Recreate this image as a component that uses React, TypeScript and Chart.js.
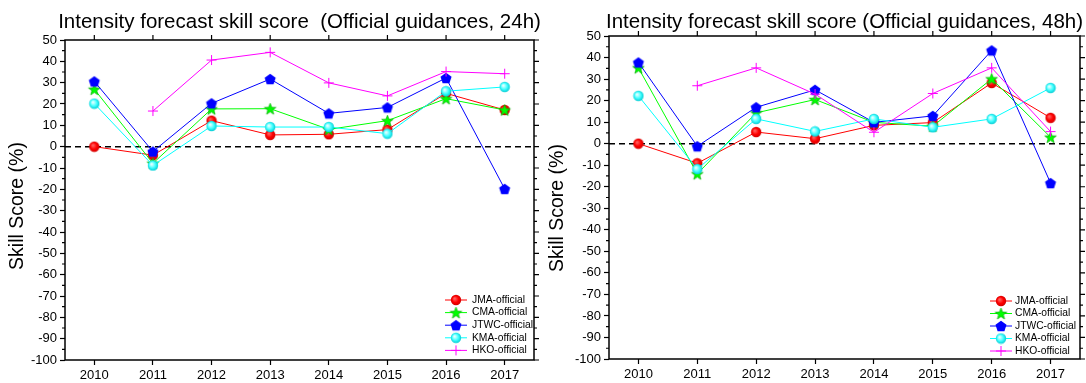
import React, { useEffect, useRef } from 'react';
import { Chart, registerables } from 'chart.js';
import { drawPoint } from 'chart.js/helpers';

Chart.register(...registerables);

const FONT = '"Liberation Sans", Arial, sans-serif';

const years = ['2010', '2011', '2012', '2013', '2014', '2015', '2016', '2017'];
const seriesNames = ['JMA-official', 'CMA-official', 'JTWC-official', 'KMA-official', 'HKO-official'];

// 24-hour intensity skill scores (%)
const jma24 = [0, -4, 12.2, 5.5, 5.8, 8, 25, 17.2];
const cma24 = [26.9, -7.8, 17.7, 17.8, 8.1, 12.2, 22.5, 17.2];
const jtwc24 = [30.6, -2.3, 20.3, 31.7, 15.6, 18.4, 32.2, -19.8];
const kma24 = [20.2, -8.8, 9.7, 9.2, 9.2, 6.1, 26, 28];
const hko24 = [null, 16.7, 40.6, 44.2, 29.9, 23.8, 35.2, 34.2];

// 48-hour intensity skill scores (%)
const jma48 = [0, -9.1, 5.4, 2.3, 8.5, 9.8, 28.2, 12.0];
const cma48 = [35.2, -14, 14.3, 20.5, 9.9, 8.1, 30.1, 3];
const jtwc48 = [37.7, -1.2, 16.9, 25, 9.9, 12.9, 43.3, -18.3];
const kma48 = [22.2, -11.8, 11.5, 5.7, 11.5, 7.6, 11.5, 25.9];
const hko48 = [null, 26.9, 35.2, 23, 5.3, 23.3, 35.2, 5.6];

const yMin = -100;
const yMax = 50;
const yStep = 10;

const title24 = 'Intensity forecast skill score  (Official guidances, 24h)';
const title48 = 'Intensity forecast skill score (Official guidances, 48h)';
const yTitle = 'Skill Score (%)';

const lineColors = ['#ff0000', '#00ff00', '#0000ff', '#00ffff', '#ff00ff'];

function sprite(size: number, draw: (ctx: CanvasRenderingContext2D, c: number) => void) {
  const cv = document.createElement('canvas');
  cv.width = size;
  cv.height = size;
  const ctx = cv.getContext('2d') as CanvasRenderingContext2D;
  draw(ctx, size / 2);
  return cv;
}

function ball(inner: string, mid: string, rim: string) {
  return sprite(12, (ctx, c) => {
    const g = ctx.createRadialGradient(c - 1.5, c - 1.5, 0.5, c, c, 5.4);
    g.addColorStop(0, inner);
    g.addColorStop(0.55, mid);
    g.addColorStop(1, rim);
    ctx.fillStyle = g;
    ctx.beginPath();
    ctx.arc(c, c, 5.2, 0, Math.PI * 2);
    ctx.fill();
  });
}

function pentagon(color: string) {
  return sprite(14, (ctx, c) => {
    ctx.fillStyle = color;
    ctx.beginPath();
    for (let k = 0; k < 5; k++) {
      const a = -Math.PI / 2 + (k * 2 * Math.PI) / 5;
      const px = c + 5.8 * Math.cos(a);
      const py = c + 0.6 + 5.8 * Math.sin(a);
      if (k === 0) ctx.moveTo(px, py);
      else ctx.lineTo(px, py);
    }
    ctx.closePath();
    ctx.fill();
  });
}

function star(fill: string, edge: string) {
  return sprite(15, (ctx, c) => {
    ctx.fillStyle = fill;
    ctx.strokeStyle = edge;
    ctx.lineWidth = 0.7;
    ctx.beginPath();
    for (let k = 0; k < 10; k++) {
      const a = -Math.PI / 2 + (k * Math.PI) / 5;
      const r = k % 2 === 0 ? 6.1 : 2.5;
      const px = c + r * Math.cos(a);
      const py = c + 0.6 + r * Math.sin(a);
      if (k === 0) ctx.moveTo(px, py);
      else ctx.lineTo(px, py);
    }
    ctx.closePath();
    ctx.fill();
    ctx.stroke();
  });
}

// Box frame, mirrored ticks, minor ticks and the dashed zero line
const frameDeco = {
  id: 'frameDeco',
  beforeDatasetsDraw(chart: any) {
    const { ctx, chartArea: a, scales } = chart;
    const py = scales.y.getPixelForValue(0);
    ctx.save();
    ctx.strokeStyle = '#000';
    ctx.lineWidth = 1.5;
    ctx.setLineDash([6, 4]);
    ctx.beginPath();
    ctx.moveTo(a.left, py);
    ctx.lineTo(a.right, py);
    ctx.stroke();
    ctx.restore();
  },
  afterDraw(chart: any) {
    const { ctx, chartArea: a, scales } = chart;
    const x = scales.x;
    const y = scales.y;
    ctx.save();
    ctx.strokeStyle = '#000';
    ctx.lineWidth = 1.2;
    ctx.beginPath();
    for (let v = y.min; v <= y.max + 0.01; v += yStep / 2) {
      const p = y.getPixelForValue(v);
      const major = Math.round(v) % yStep === 0;
      const len = major ? 5 : 3;
      if (!major) {
        ctx.moveTo(a.left - len, p);
        ctx.lineTo(a.left, p);
      }
      ctx.moveTo(a.right, p);
      ctx.lineTo(a.right + len, p);
    }
    years.forEach((_, i) => {
      const p = x.getPixelForValue(i);
      ctx.moveTo(p, a.top - 5);
      ctx.lineTo(p, a.top);
    });
    ctx.stroke();
    ctx.lineWidth = 1.5;
    ctx.strokeRect(a.left, a.top, a.right - a.left, a.bottom - a.top);
    ctx.restore();
  },
};

// Panel heading centred over the plot area, and the rotated y-axis caption
const captions = {
  id: 'captions',
  afterDraw(chart: any, _args: any, opts: any) {
    const { ctx, chartArea: a } = chart;
    ctx.save();
    ctx.fillStyle = '#000';
    ctx.textAlign = 'center';
    ctx.textBaseline = 'alphabetic';
    ctx.font = `${opts.headingSize}px ${FONT}`;
    ctx.fillText(opts.heading, (a.left + a.right) / 2, opts.headingBaseline);
    ctx.translate(opts.yx, opts.yy);
    ctx.rotate(-Math.PI / 2);
    ctx.font = `${opts.ySize}px ${FONT}`;
    ctx.textBaseline = 'middle';
    ctx.fillText(opts.yText, 0, 0);
    ctx.restore();
  },
};

// Legend box in the lower right of the plot area
const insideLegend = {
  id: 'insideLegend',
  afterDraw(chart: any, _args: any, opts: any) {
    const { ctx } = chart;
    ctx.save();
    chart.data.datasets.forEach((ds: any, i: number) => {
      const yy = opts.top + i * opts.step;
      ctx.setLineDash([]);
      ctx.strokeStyle = ds.borderColor;
      ctx.lineWidth = 1;
      ctx.beginPath();
      ctx.moveTo(opts.lineStart, yy);
      ctx.lineTo(opts.lineStart + opts.lineLen, yy);
      ctx.stroke();
      ctx.fillStyle = ds.pointBackgroundColor;
      ctx.strokeStyle = ds.pointBorderColor;
      drawPoint(ctx, { pointStyle: ds.pointStyle, radius: ds.pointRadius, rotation: 0, borderWidth: 1 } as any,
        opts.lineStart + opts.lineLen / 2, yy);
      ctx.fillStyle = '#000';
      ctx.font = `${opts.fontSize}px ${FONT}`;
      ctx.textAlign = 'left';
      ctx.textBaseline = 'middle';
      ctx.fillText(ds.label, opts.textX, yy);
    });
    ctx.restore();
  },
};

type PanelProps = {
  title: string;
  series: (number | null)[][];
  padTop: number;
  axisWidth: number;
  axisHeight: number;
  padRight: number;
  captionX: number;
  captionY: number;
  legend: { top: number; step: number; lineStart: number; lineLen: number; textX: number; fontSize: number };
};

function SkillPanel(props: PanelProps) {
  const ref = useRef<HTMLCanvasElement | null>(null);

  useEffect(() => {
    if (!ref.current) return;
    const markers: any[] = [
      ball('#ff6060', '#ff0000', '#d00000'),
      star('#00ff00', '#00b000'),
      pentagon('#0000ff'),
      ball('#e8ffff', '#40ffff', '#00c8d0'),
      'cross',
    ];
    const datasets = props.series.map((values, i) => ({
      label: seriesNames[i],
      data: values,
      borderColor: lineColors[i],
      backgroundColor: lineColors[i],
      pointBackgroundColor: lineColors[i],
      pointBorderColor: lineColors[i],
      pointBorderWidth: 1,
      borderWidth: 1,
      pointStyle: markers[i],
      pointRadius: 5,
      tension: 0,
      order: 5 - i,
    }));

    const chart = new Chart(ref.current, {
      type: 'line',
      data: { labels: years, datasets },
      plugins: [frameDeco, captions, insideLegend],
      options: {
        responsive: false,
        animation: false,
        devicePixelRatio: 1,
        layout: { padding: { left: 0, right: props.padRight, top: props.padTop, bottom: 0 } },
        scales: {
          x: {
            type: 'category',
            offset: true,
            border: { display: false },
            grid: { display: true, offset: false, drawOnChartArea: false, drawTicks: true, tickLength: 5, tickColor: '#000', tickWidth: 1.2 },
            ticks: { color: '#000', font: { family: FONT, size: 13 }, padding: 3, maxRotation: 0, autoSkip: false },
            afterFit: (s: any) => { s.height = props.axisHeight; },
          },
          y: {
            min: yMin,
            max: yMax,
            border: { display: false },
            grid: { display: true, drawOnChartArea: false, drawTicks: true, tickLength: 5, tickColor: '#000', tickWidth: 1.2 },
            ticks: { stepSize: yStep, color: '#000', font: { family: FONT, size: 13 }, padding: 3 },
            afterFit: (s: any) => { s.width = props.axisWidth; },
          },
        },
        plugins: {
          legend: { display: false },
          tooltip: { enabled: false },
          title: { display: false },
          captions: {
            heading: props.title,
            headingSize: 20.5,
            headingBaseline: 27.5,
            yText: yTitle,
            yx: props.captionX,
            yy: props.captionY,
            ySize: 19.5,
          },
          insideLegend: props.legend,
        } as any,
      },
    } as any);
    return () => chart.destroy();
  }, []);

  return <canvas ref={ref} width={543} height={383} style={{ display: 'block', width: 543, height: 383 }} />;
}

export default function App() {
  return (
    <div style={{ position: 'fixed', left: 0, top: 0, width: 1086, height: 383, background: '#fff' }}>
      <div style={{ position: 'absolute', left: 0, top: 0 }}>
        <SkillPanel
          title={title24}
          series={[jma24, cma24, jtwc24, kma24, hko24]}
          padTop={40}
          axisWidth={65}
          axisHeight={23}
          padRight={9}
          captionX={18}
          captionY={206}
          legend={{ top: 300, step: 12.6, lineStart: 445, lineLen: 22, textX: 472, fontSize: 10.3 }}
        />
      </div>
      <div style={{ position: 'absolute', left: 543, top: 0 }}>
        <SkillPanel
          title={title48}
          series={[jma48, cma48, jtwc48, kma48, hko48]}
          padTop={36}
          axisWidth={66}
          axisHeight={24}
          padRight={5}
          captionX={14.5}
          captionY={208}
          legend={{ top: 301, step: 12.5, lineStart: 447, lineLen: 22, textX: 472, fontSize: 10.3 }}
        />
      </div>
    </div>
  );
}
